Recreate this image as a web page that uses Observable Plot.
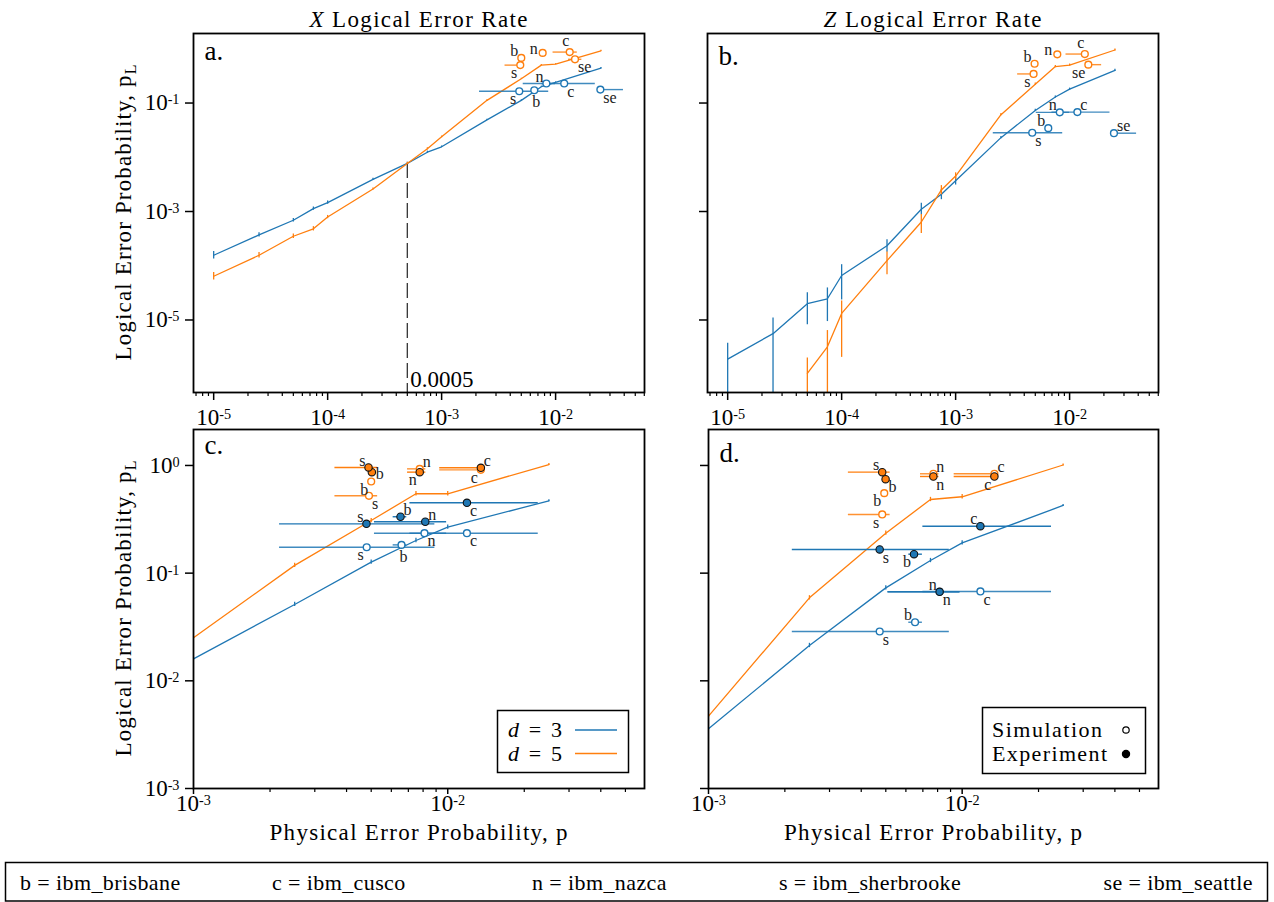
<!DOCTYPE html>
<html><head><meta charset="utf-8">
<script src="https://cdn.jsdelivr.net/npm/d3@7"></script>
<script src="https://cdn.jsdelivr.net/npm/@observablehq/plot@0.6"></script>
<style>
html,body{margin:0;padding:0;background:#fff;}
#root{position:relative;width:1274px;height:902px;overflow:hidden;background:#fff;}
</style></head>
<body><div id="root"></div>
<script>
// ---------------- DATA ----------------
const BLUE = "#1f77b4", ORANGE = "#ff7f0e";
const FONT = '"Liberation Serif", "Times New Roman", serif';

const pTop = [1e-5,2.5e-5,5e-5,7.5e-5,1e-4,2.5e-4,5e-4,7.5e-4,1e-3,2.5e-3,5e-3,7.5e-3,1e-2,2.5e-2];
const pBottom = [1e-3,2.5e-3,5e-3,7.5e-3,1e-2,2.5e-2];

// panel a: X logical error rate (simulation curves), error half-widths in decades
const aXd3 = [1.56e-4,3.7e-4,6.9e-4,1.13e-3,1.46e-3,3.9e-3,7.7e-3,1.24e-2,1.56e-2,4.9e-2,0.112,0.2,0.24,0.44];
const aXd5 = [6.4e-5,1.56e-4,3.5e-4,4.8e-4,7.9e-4,2.6e-3,7.7e-3,1.43e-2,2.38e-2,0.112,0.28,0.5,0.52,0.92];
const aXd3Err = [0.07,0.04,0.03,0.03,0.03,0.02,0.02,0.02,0.015,0.01,0.01,0.01,0.01,0.01];
const aXd5Err = [0.07,0.05,0.04,0.04,0.03,0.02,0.02,0.02,0.015,0.01,0.01,0.01,0.01,0.01];

// panel b: Z logical error rate
const bZd3 = [1.9e-6,5.6e-6,2.0e-5,2.46e-5,6.6e-5,2.34e-4,1.1e-3,2.08e-3,3.7e-3,2.3e-2,0.073,0.129,0.18,0.40];
const bZd3Up = [0.29,0.29,0.2,0.2,0.2,0.11,0.11,0.09,0.07,0.02,0.02,0.02,0.02,0.02];
const bZd3Dn = [2,2,0.39,0.42,0.45,0.12,0.1,0.1,0.08,0.02,0.02,0.02,0.02,0.02];
const bZd5 = [null,null,1.04e-6,3.2e-6,1.32e-5,1.24e-4,6.4e-4,2.5e-3,4.5e-3,0.061,0.223,0.47,0.5,0.95];
const bZd5Up = [0,0,0.28,0.3,0.23,0.16,0.14,0.08,0.06,0.02,0.02,0.02,0.02,0.02];
const bZd5Dn = [0,0,2,2,0.81,0.26,0.21,0.09,0.07,0.02,0.02,0.02,0.02,0.02];

// panels c, d
const cXd3 = [0.016,0.0512,0.1266,0.201,0.267,0.47];
const cXd5 = [0.0251,0.118,0.308,0.546,0.546,1.02];
const dZd3 = [3.58e-3,0.0213,0.073,0.131,0.191,0.425];
const dZd5 = [4.7e-3,0.059,0.235,0.483,0.512,1.01];
const bottomErr = [0.01,0.02,0.02,0.02,0.02,0.01];

const threshold = [5e-4];
const thresholdCross = [7.7e-3];

// devices
const topDevices = ["b","c","n","s","se"];
const bottomDevices = ["b","c","n","s"];
const deviceNames = ["b = ibm_brisbane","c = ibm_cusco","n = ibm_nazca","s = ibm_sherbrooke","se = ibm_seattle"];

// panel a markers
const aSim3P = [6.5e-3,1.19e-2,8.3e-3,4.8e-3,2.47e-2];
const aSim3L = [0.172,0.229,0.229,0.165,0.177];
const aSim3Lo = [6.5e-3,7.6e-3,5.2e-3,2.15e-3,2.47e-2];
const aSim3Hi = [6.5e-3,2.23e-2,1.0e-2,8.7e-3,3.94e-2];
const aSim3Pos = ["b","br","tl","bl","br"];
const aSim5P = [5.0e-3,1.33e-2,7.7e-3,4.9e-3,1.48e-2];
const aSim5L = [0.68,0.87,0.84,0.50,0.64];
const aSim5Lo = [5.0e-3,9.5e-3,7.7e-3,3.6e-3,1.3e-2];
const aSim5Hi = [5.0e-3,1.55e-2,7.7e-3,5.2e-3,1.7e-2];
const aSim5Pos = ["tl","t","l","bl","br"];

// panel b markers
const bSim3P = [6.5e-3,1.17e-2,8.2e-3,4.7e-3,2.45e-2];
const bSim3L = [0.0344,0.068,0.0673,0.0283,0.0278];
const bSim3Lo = [6.5e-3,7.0e-3,5.1e-3,2.14e-3,2.45e-2];
const bSim3Hi = [6.5e-3,2.26e-2,1.0e-2,8.7e-3,3.87e-2];
const bSim3Pos = ["tl","tr","tl","br","tr"];
const bSim5P = [4.93e-3,1.36e-2,7.8e-3,4.83e-3,1.46e-2];
const bSim5L = [0.53,0.80,0.79,0.344,0.51];
const bSim5Lo = [4.93e-3,9.3e-3,7.8e-3,3.5e-3,1.46e-2];
const bSim5Hi = [4.93e-3,1.42e-2,7.8e-3,5.2e-3,1.91e-2];
const bSim5Pos = ["tl","t","l","bl","bl"];

// panel c markers
const cSim3P = [6.58e-3,1.19e-2,8.1e-3,4.8e-3];
const cSim3L = [0.183,0.235,0.235,0.174];
const cSim3Lo = [6.1e-3,7.1e-3,5.15e-3,2.18e-3];
const cSim3Hi = [6.9e-3,2.27e-2,9.9e-3,8.9e-3];
const cSim3Pos = ["b","br","br","bl"];
const cExp3P = [6.52e-3,1.19e-2,8.16e-3,4.79e-3];
const cExp3L = [0.334,0.45,0.30,0.287];
const cExp3Lo = [6.1e-3,7.1e-3,5.15e-3,2.18e-3];
const cExp3Hi = [6.9e-3,2.27e-2,9.9e-3,8.9e-3];
const cExp3Pos = ["tr","br","tr","tl"];
const cSim5P = [5.0e-3,1.35e-2,7.76e-3,4.9e-3];
const cSim5L = [0.71,0.91,0.93,0.523];
const cSim5Lo = [5.0e-3,9.3e-3,6.95e-3,3.6e-3];
const cSim5Hi = [5.0e-3,1.35e-2,8.2e-3,5.3e-3];
const cSim5Pos = ["bl","bl","tr","br"];
const cExp5P = [5.03e-3,1.35e-2,7.76e-3,4.88e-3];
const cExp5L = [0.867,0.951,0.867,0.958];
const cExp5Lo = [5.03e-3,9.3e-3,6.95e-3,3.6e-3];
const cExp5Hi = [5.03e-3,1.35e-2,8.2e-3,5.3e-3];
const cExp5Pos = ["r","tr","bl","tl"];

// panel d markers
const dSim3P = [6.52e-3,1.18e-2,8.15e-3,4.73e-3];
const dSim3L = [0.035,0.0676,0.0671,0.0287];
const dSim3Lo = [6.16e-3,7.0e-3,5.1e-3,2.14e-3];
const dSim3Hi = [6.97e-3,2.25e-2,9.8e-3,8.9e-3];
const dSim3Pos = ["tl","br","tl","br"];
const dExp3P = [6.46e-3,1.18e-2,8.15e-3,4.73e-3];
const dExp3L = [0.150,0.273,0.0671,0.166];
const dExp3Lo = [6.16e-3,7.0e-3,5.1e-3,2.14e-3];
const dExp3Hi = [6.97e-3,2.25e-2,9.8e-3,8.9e-3];
const dExp3Pos = ["bl","tl","br","br"];
const dSim5P = [4.93e-3,1.34e-2,7.7e-3,4.84e-3];
const dSim5L = [0.553,0.837,0.837,0.351];
const dSim5Lo = [4.93e-3,9.3e-3,6.85e-3,3.56e-3];
const dSim5Hi = [4.93e-3,1.37e-2,8.1e-3,5.2e-3];
const dSim5Pos = ["bl","tr","tr","bl"];
const dExp5P = [4.99e-3,1.34e-2,7.7e-3,4.84e-3];
const dExp5L = [0.746,0.79,0.79,0.867];
const dExp5Lo = [4.99e-3,9.3e-3,6.85e-3,3.56e-3];
const dExp5Hi = [4.99e-3,1.37e-2,8.1e-3,5.2e-3];
const dExp5Pos = ["br","bl","br","tl"];

// axis ticks
const topXMajor = [1e-5,1e-4,1e-3,1e-2];
const topYMajor = [1e-5,1e-3,1e-1];
const bottomXMajor = [1e-3,1e-2];
const bottomYMajor = [1e-3,1e-2,1e-1,1];
const topXDomain = [10**-5.177, 10**-1.22];
const topYDomain = [10**-6.337, 10**0.282];
const bottomXDomain = [1e-3, 10**-1.226];
const bottomYDomain = [1e-3, 10**0.334];

// ---------------- HELPERS ----------------
const LABEL = {tl:["end",-3,-7], bl:["end",-3,8], tr:["start",3,-7], br:["start",3,8],
               t:["middle",-4,-11], b:["middle",2,12], l:["end",-5,-4], r:["start",4,2]};

function markerRows(devs,p,L,lo,hi,pos){
  return devs.map((dev,i)=>({dev,p:p[i],pl:L[i],lo:lo[i],hi:hi[i],pos:pos[i]}));
}
function seriesRows(ps,vals,up,dn){
  return ps.map((p,i)=>({p,v:vals[i],y1:vals[i]==null?null:vals[i]*10**(-dn[i]),y2:vals[i]==null?null:vals[i]*10**(up[i])}))
           .filter(r=>r.v!=null);
}
function minorTicks(domain){
  const out=[];
  for(let e=-8;e<=1;e++) for(let k=2;k<=9;k++){const v=k*10**e; if(v>=domain[0]&&v<=domain[1]) out.push(v);}
  return out;
}
const powLabel = d => "10^" + Math.round(Math.log10(d));

function curveMarks(rows,color){
  return [
    Plot.ruleX(rows,{x:"p",y1:"y1",y2:"y2",stroke:color,strokeWidth:1.3,clip:true}),
    Plot.line(rows,{x:"p",y:"v",stroke:color,strokeWidth:1.3,clip:true})
  ];
}
function markerMarks(rows,color,filled){
  const marks=[
    Plot.ruleY(rows.filter(r=>r.hi>r.lo),{y:"pl",x1:"lo",x2:"hi",stroke:color,strokeWidth:1.4,strokeOpacity:filled?1:0.85}),
    Plot.dot(rows,{x:"p",y:"pl",r:filled?3.7:3.4,fill:filled?color:"white",stroke:filled?"#111":color,strokeWidth:filled?1.1:1.4})
  ];
  for(const code of Object.keys(LABEL)){
    const sub=rows.filter(r=>r.pos===code);
    if(!sub.length) continue;
    const [anchor,dx,dy]=LABEL[code];
    marks.push(Plot.text(sub,{x:"p",y:"pl",text:"dev",textAnchor:anchor,dx,dy,fontSize:16,fill:"#222"}));
  }
  return marks;
}

function panel(cfg){
  const svg = Plot.plot({
    width:cfg.width,height:cfg.height,
    marginLeft:cfg.ml,marginRight:cfg.mr,marginTop:cfg.mt,marginBottom:cfg.mb,
    x:{type:"log",domain:cfg.xDomain},
    y:{type:"log",domain:cfg.yDomain},
    style:{fontFamily:FONT,fontSize:"23px",background:"transparent",overflow:"visible",color:"#000"},
    marks:[
      Plot.axisX(minorTicks(cfg.xDomain),{tickSize:4,tickFormat:()=>"",strokeWidth:1.2,label:null}),
      Plot.axisX(cfg.xMajor,{tickSize:cfg.xTickSize,tickPadding:cfg.xPad,tickFormat:powLabel,strokeWidth:1.5,label:null}),
      Plot.axisY(cfg.yMajor,{tickSize:8,tickPadding:6,tickFormat:cfg.yLabels?powLabel:()=>"",strokeWidth:1.5,label:null}),
      ...cfg.marks,
      Plot.frame({stroke:"#000",strokeWidth:1.8}),
      Plot.text([cfg.letter],{text:d=>d,frameAnchor:"top-left",dx:11,dy:cfg.letterDy,fontSize:27,textAnchor:"start",lineAnchor:"middle"})
    ]
  });
  // superscript exponents
  d3.select(svg).selectAll("text").each(function(){
    const m=/^10\^(-?\d+)$/.exec(this.textContent);
    if(!m) return;
    const s=d3.select(this);
    s.selectAll("*").remove(); s.text(null);
    s.append("tspan").text("10");
    s.append("tspan").attr("dy","-0.42em").attr("font-size","0.62em").text(m[1]);
  });
  svg.style.position="absolute";
  svg.style.left=cfg.left+"px";
  svg.style.top=cfg.top+"px";
  return svg;
}

const root=document.getElementById("root");

// ---------------- PANEL A ----------------
const thrRows = threshold.map((p,i)=>({p,top:thresholdCross[i],label:String(p)}));
root.appendChild(panel({
  left:0,top:0,width:660,height:430,ml:193,mr:16,mt:33,mb:38,xTickSize:8,xPad:8,
  xDomain:topXDomain,yDomain:topYDomain,xMajor:topXMajor,yMajor:topYMajor,yLabels:true,
  letter:"a.",letterDy:18,
  marks:[
    Plot.ruleX(thrRows,{x:"p",y1:"top",y2:()=>topYDomain[0],stroke:"#333",strokeWidth:1.3,strokeDasharray:"15,5"}),
    Plot.text(thrRows,{x:"p",y:()=>topYDomain[0],text:"label",textAnchor:"start",dx:3,dy:-13,fontSize:23}),
    ...curveMarks(seriesRows(pTop,aXd3,aXd3Err,aXd3Err),BLUE),
    ...curveMarks(seriesRows(pTop,aXd5,aXd5Err,aXd5Err),ORANGE),
    ...markerMarks(markerRows(topDevices,aSim3P,aSim3L,aSim3Lo,aSim3Hi,aSim3Pos),BLUE,false),
    ...markerMarks(markerRows(topDevices,aSim5P,aSim5L,aSim5Lo,aSim5Hi,aSim5Pos),ORANGE,false)
  ]
}));

// ---------------- PANEL B ----------------
root.appendChild(panel({
  left:660,top:0,width:614,height:430,ml:47,mr:116,mt:33,mb:38,xTickSize:8,xPad:8,
  xDomain:topXDomain,yDomain:topYDomain,xMajor:topXMajor,yMajor:topYMajor,yLabels:false,
  letter:"b.",letterDy:23,
  marks:[
    ...curveMarks(seriesRows(pTop,bZd3,bZd3Up,bZd3Dn),BLUE),
    ...curveMarks(seriesRows(pTop,bZd5,bZd5Up,bZd5Dn),ORANGE),
    ...markerMarks(markerRows(topDevices,bSim3P,bSim3L,bSim3Lo,bSim3Hi,bSim3Pos),BLUE,false),
    ...markerMarks(markerRows(topDevices,bSim5P,bSim5L,bSim5Lo,bSim5Hi,bSim5Pos),ORANGE,false)
  ]
}));

// ---------------- PANEL C ----------------
root.appendChild(panel({
  left:0,top:420,width:660,height:400,ml:193,mr:16,mt:9,mb:32,xTickSize:6,xPad:0,
  xDomain:bottomXDomain,yDomain:bottomYDomain,xMajor:bottomXMajor,yMajor:bottomYMajor,yLabels:true,
  letter:"c.",letterDy:16,
  marks:[
    ...curveMarks(seriesRows(pBottom,cXd3,bottomErr,bottomErr),BLUE),
    ...curveMarks(seriesRows(pBottom,cXd5,bottomErr,bottomErr),ORANGE),
    ...markerMarks(markerRows(bottomDevices,cSim3P,cSim3L,cSim3Lo,cSim3Hi,cSim3Pos),BLUE,false),
    ...markerMarks(markerRows(bottomDevices,cSim5P,cSim5L,cSim5Lo,cSim5Hi,cSim5Pos),ORANGE,false),
    ...markerMarks(markerRows(bottomDevices,cExp3P,cExp3L,cExp3Lo,cExp3Hi,cExp3Pos),BLUE,true),
    ...markerMarks(markerRows(bottomDevices,cExp5P,cExp5L,cExp5Lo,cExp5Hi,cExp5Pos),ORANGE,true)
  ]
}));

// ---------------- PANEL D ----------------
root.appendChild(panel({
  left:660,top:420,width:614,height:400,ml:48,mr:116,mt:9,mb:32,xTickSize:6,xPad:0,
  xDomain:bottomXDomain,yDomain:bottomYDomain,xMajor:bottomXMajor,yMajor:bottomYMajor,yLabels:false,
  letter:"d.",letterDy:24,
  marks:[
    ...curveMarks(seriesRows(pBottom,dZd3,bottomErr,bottomErr),BLUE),
    ...curveMarks(seriesRows(pBottom,dZd5,bottomErr,bottomErr),ORANGE),
    ...markerMarks(markerRows(bottomDevices,dSim3P,dSim3L,dSim3Lo,dSim3Hi,dSim3Pos),BLUE,false),
    ...markerMarks(markerRows(bottomDevices,dSim5P,dSim5L,dSim5Lo,dSim5Hi,dSim5Pos),ORANGE,false),
    ...markerMarks(markerRows(bottomDevices,dExp3P,dExp3L,dExp3Lo,dExp3Hi,dExp3Pos),BLUE,true),
    ...markerMarks(markerRows(bottomDevices,dExp5P,dExp5L,dExp5Lo,dExp5Hi,dExp5Pos),ORANGE,true)
  ]
}));

// ---------------- OVERLAY: titles, axis labels, legends ----------------
const ov=d3.select(root).append("svg")
  .attr("width",1274).attr("height",902)
  .style("position","absolute").style("left","0px").style("top","0px")
  .style("pointer-events","none").style("font-family",FONT).attr("fill","#000");

function title(x,letter){
  const t=ov.append("text").attr("x",x).attr("y",27).attr("text-anchor","middle").attr("font-size",23)
    .attr("textLength",218).attr("lengthAdjust","spacing");
  t.append("tspan").attr("font-style","italic").text(letter);
  t.append("tspan").text(" Logical Error Rate");
}
title(418.5,"X"); title(932.5,"Z");

function ylabel(cy){
  const t=ov.append("text").attr("transform",`translate(131,${cy}) rotate(-90)`).attr("text-anchor","middle")
    .attr("font-size",23).attr("textLength",296).attr("lengthAdjust","spacing");
  t.append("tspan").text("Logical Error Probability, p");
  t.append("tspan").attr("dy",5).attr("font-size",16).text("L");
}
ylabel(212.5); ylabel(608.5);

function xlabel(cx){
  ov.append("text").attr("x",cx).attr("y",840).attr("text-anchor","middle").attr("font-size",23)
    .attr("textLength",298).attr("lengthAdjust","spacing").text("Physical Error Probability, p");
}
xlabel(418.5); xlabel(933);

// legend c: code distance
const distLegend=[{d:3,color:BLUE},{d:5,color:ORANGE}];
ov.append("rect").attr("x",497.5).attr("y",710.5).attr("width",131).attr("height",62)
  .attr("fill","white").attr("stroke","#000").attr("stroke-width",1.5);
distLegend.forEach((it,i)=>{
  const base=737+i*23.5;
  const t=ov.append("text").attr("x",508).attr("y",base).attr("font-size",22)
    .attr("textLength",54).attr("lengthAdjust","spacing");
  t.append("tspan").attr("font-style","italic").text("d");
  t.append("tspan").text(" = "+it.d);
  ov.append("line").attr("x1",575).attr("x2",617).attr("y1",base-7).attr("y2",base-7)
    .attr("stroke",it.color).attr("stroke-width",1.6);
});

// legend d: marker type
const typeLegend=[{name:"Simulation",filled:false,w:110},{name:"Experiment",filled:true,w:115}];
ov.append("rect").attr("x",982.5).attr("y",707.5).attr("width",163).attr("height",66)
  .attr("fill","white").attr("stroke","#000").attr("stroke-width",1.5);
typeLegend.forEach((it,i)=>{
  const base=737+i*24;
  ov.append("text").attr("x",992).attr("y",base).attr("font-size",22)
    .attr("textLength",it.w).attr("lengthAdjust","spacing").text(it.name);
  ov.append("circle").attr("cx",1126).attr("cy",base-7).attr("r",it.filled?3.6:3.2)
    .attr("fill",it.filled?"#000":"white").attr("stroke","#000").attr("stroke-width",1.2);
});

// bottom device legend
ov.append("rect").attr("x",5.5).attr("y",862.5).attr("width",1262).attr("height",38.5)
  .attr("fill","none").attr("stroke","#000").attr("stroke-width",1.5);
const devX=[20,272,532,779,1253];
deviceNames.forEach((name,i)=>{
  ov.append("text").attr("x",devX[i]).attr("y",890).attr("font-size",22)
    .attr("text-anchor",i===deviceNames.length-1?"end":"start")
    .style("letter-spacing","0.4px").text(name);
});
</script>
</body></html>
